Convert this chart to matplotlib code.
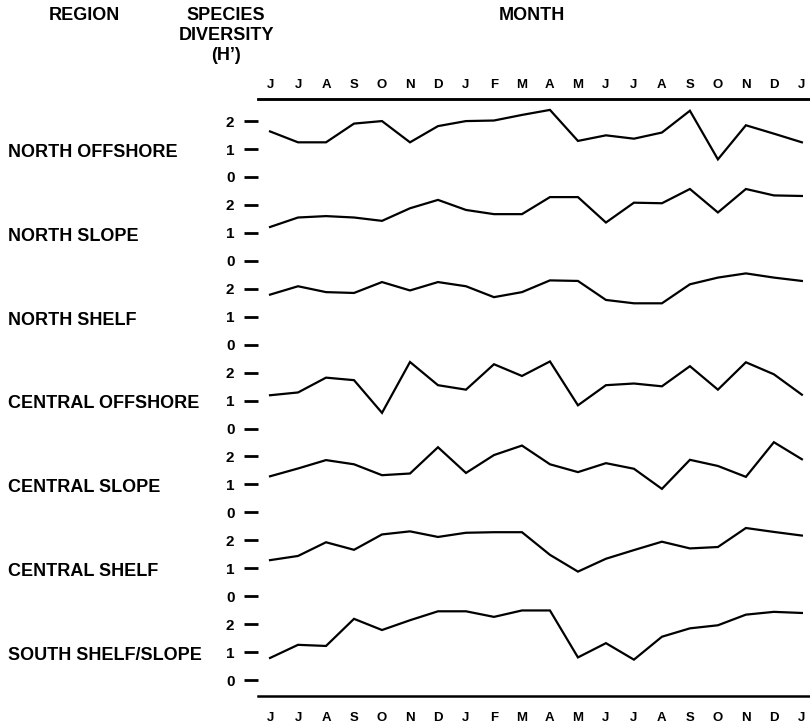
import matplotlib
matplotlib.use("Agg")
import matplotlib.pyplot as plt
from matplotlib.transforms import blended_transform_factory

plt.rcParams['font.family'] = ['Liberation Sans', 'DejaVu Sans']

months = ["J", "J", "A", "S", "O", "N", "D", "J", "F", "M",
          "A", "M", "J", "J", "A", "S", "O", "N", "D", "J"]

regions = ["NORTH OFFSHORE", "NORTH SLOPE", "NORTH SHELF", "CENTRAL OFFSHORE",
           "CENTRAL SLOPE", "CENTRAL SHELF", "SOUTH SHELF/SLOPE"]

north_offshore = [1.63, 1.24, 1.24, 1.91, 2.00, 1.24, 1.82, 2.00, 2.02, 2.22,
                  2.40, 1.29, 1.49, 1.37, 1.59, 2.37, 0.63, 1.85, 1.55, 1.24]
north_slope = [1.21, 1.55, 1.60, 1.55, 1.43, 1.88, 2.18, 1.82, 1.67, 1.67,
               2.28, 2.28, 1.37, 2.08, 2.06, 2.57, 1.73, 2.57, 2.34, 2.32]
north_shelf = [1.79, 2.09, 1.88, 1.85, 2.24, 1.94, 2.24, 2.09, 1.70, 1.88,
               2.30, 2.28, 1.60, 1.48, 1.48, 2.16, 2.40, 2.55, 2.40, 2.28]
central_offshore = [1.19, 1.29, 1.82, 1.73, 0.56, 2.38, 1.55, 1.39, 2.30, 1.88,
                    2.40, 0.83, 1.55, 1.61, 1.51, 2.23, 1.39, 2.37, 1.94, 1.21]
central_slope = [1.29, 1.57, 1.87, 1.72, 1.33, 1.39, 2.33, 1.41, 2.05, 2.39,
                 1.72, 1.44, 1.76, 1.56, 0.84, 1.88, 1.66, 1.27, 2.51, 1.90]
central_shelf = [1.29, 1.44, 1.93, 1.66, 2.21, 2.32, 2.12, 2.27, 2.29, 2.29,
                 1.48, 0.88, 1.34, 1.65, 1.95, 1.71, 1.76, 2.44, 2.30, 2.17]
south_shelf_slope = [0.79, 1.26, 1.22, 2.19, 1.79, 2.14, 2.46, 2.46, 2.26, 2.49,
                     2.49, 0.81, 1.32, 0.73, 1.55, 1.85, 1.96, 2.34, 2.44, 2.40]

series = [north_offshore, north_slope, north_shelf, central_offshore,
          central_slope, central_shelf, south_shelf_slope]

tick_values = [0, 1, 2]
panel_step = 3

fig = plt.figure(figsize=(8.1, 7.25), dpi=100)
ax = fig.add_axes([258 / 810, 1 - 695.7 / 725, 1 - 258 / 810, (695.7 - 99) / 725])

n = len(series)
x = list(range(len(months)))
yticks, ylabels = [], []
for k, vals in enumerate(series):
    off = panel_step * (n - 1 - k)
    ax.plot(x, [v + off for v in vals], color="black", lw=1.6,
            solid_joinstyle="miter", clip_on=False)
    for t in tick_values:
        yticks.append(off + t)
        ylabels.append(str(t))

ax.set_xlim(-0.43, 19.29)
ax.set_ylim(-0.56, 20.79)
ax.set_yticks(yticks)
ax.set_yticklabels(ylabels, fontsize=11, fontweight="bold")
ax.tick_params(axis="y", direction="out", length=10, width=2, pad=7)

ax.set_xticks(x)
ax.set_xticklabels(months, fontsize=9.5, fontweight="bold")
ax.tick_params(axis="x", length=0, pad=11.5, labeltop=False, labelbottom=True,
               top=False, bottom=False)

sec = ax.secondary_xaxis("top")
sec.set_xticks(x)
sec.set_xticklabels(months, fontsize=9.5, fontweight="bold")
sec.tick_params(axis="x", length=0, pad=6)
sec.spines["top"].set_linewidth(1.8)

for side in ["left", "right"]:
    ax.spines[side].set_visible(False)
for side in ["top", "bottom"]:
    ax.spines[side].set_linewidth(1.8)

trans = blended_transform_factory(fig.transFigure, ax.transData)
for k, name in enumerate(regions):
    off = panel_step * (n - 1 - k)
    ax.text(8 / 810, off + 0.88, name, transform=trans, fontsize=13,
            fontweight="bold", ha="left", va="center")

fig.text(84 / 810, 1 - 16 / 725, "REGION", fontsize=13, fontweight="bold",
         ha="center", va="center")
fig.text(226 / 810, 1 - 16 / 725, "SPECIES", fontsize=13, fontweight="bold",
         ha="center", va="center")
fig.text(226 / 810, 1 - 36 / 725, "DIVERSITY", fontsize=13, fontweight="bold",
         ha="center", va="center")
fig.text(226 / 810, 1 - 55 / 725, "(H\u2019)", fontsize=13, fontweight="bold",
         ha="center", va="center")
fig.text(532 / 810, 1 - 16 / 725, "MONTH", fontsize=13, fontweight="bold",
         ha="center", va="center")

fig.savefig("out.png", dpi=100, facecolor="white")
